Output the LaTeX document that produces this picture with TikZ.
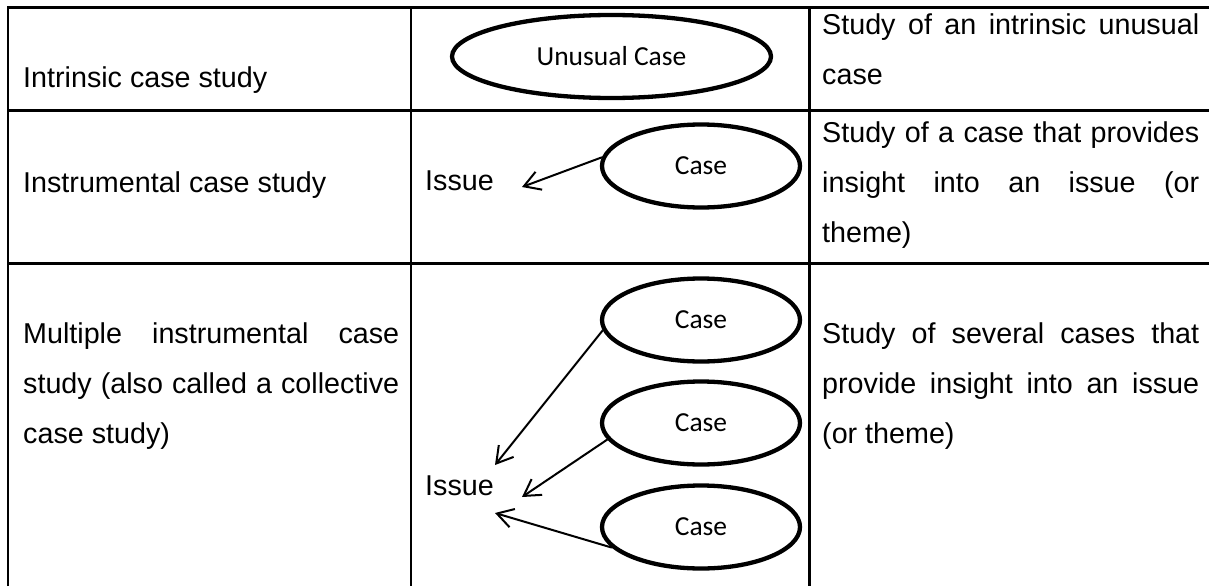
\documentclass[tikz,border=0pt]{standalone}
\usepackage{fontspec}
\setmainfont{Liberation Sans}
\newfontfamily\calib{Carlito}
\usetikzlibrary{shapes.geometric,arrows.meta}
\tikzset{
  grid/.style={line width=2.5pt, line join=miter},
  txt/.style={inner sep=0pt, anchor=base west, font=\fontsize{28.7}{50}\selectfont},
  ptxt/.style={txt, align=justify},
  oval/.style={ellipse, draw, fill=white, line width=4.3pt, inner sep=0pt,
    minimum width=198pt, minimum height=83pt, font=\calib\fontsize{27.5}{30}\selectfont},
  arr/.style={line width=2pt, -{Straight Barb[length=16pt,width=19pt]}}
}
\begin{document}
\begin{tikzpicture}[x=1pt,y=-1pt]
\useasboundingbox (0,0) rectangle (1209,586);
\fill[white] (0,0) rectangle (1209,586);
% table rules
\draw[grid] (8,586) -- (8,7.5) -- (1209,7.5);
\draw[grid] (411,7.5) -- (411,586);
\draw[grid] (809.5,7.5) -- (809.5,586);
\draw[grid] (8,110.5) -- (1209,110.5);
\draw[grid] (8,263.5) -- (1209,263.5);
% left column
\node[txt] (l1) at (23,88) {Intrinsic case study};
\node[txt] (l2) at (23,192) {Instrumental case study};
\node[ptxt, text width=376pt] (l3) at (23,343) {Multiple instrumental case\linebreak study (also called a collective\linebreak case study)};
% right column
\node[ptxt, text width=377pt] (r1) at (822,35) {Study of an intrinsic unusual\linebreak case};
\node[ptxt, text width=377pt] (r2) at (822,142) {Study of a case that provides\linebreak insight into an issue (or\linebreak theme)};
\node[ptxt, text width=377pt] (r3) at (822,343) {Study of several cases that\linebreak provide insight into an issue\linebreak (or theme)};
% middle column
\node[oval, minimum width=319pt] (u) at (611.5,56.5) {Unusual Case};
\node[oval] (c2) at (701,166) {Case};
\node[oval] (c3a) at (701,320) {Case};
\node[oval] (c3b) at (701,423) {Case};
\node[oval] (c3c) at (701,527) {Case};
\node[txt] (i2) at (425,190) {Issue};
\node[txt] (i3) at (425,495) {Issue};
\coordinate (t2) at (522,187);
\coordinate (t3a) at (495,465);
\coordinate (t3b) at (522,497);
\coordinate (t3c) at (495,513);
\draw[arr] (c2.175) -- (t2);
\draw[arr] (c3a.186) -- (t3a);
\draw[arr] (c3b.190) -- (t3b);
\draw[arr] (c3c.193) -- (t3c);
\end{tikzpicture}
\end{document}
